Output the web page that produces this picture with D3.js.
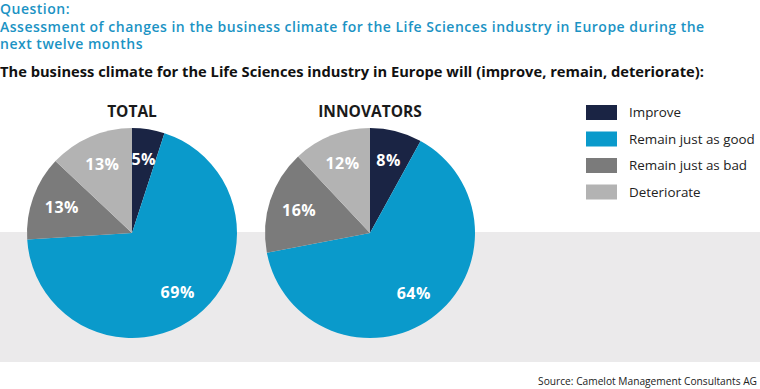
<!DOCTYPE html>
<html>
<head>
<meta charset="utf-8">
<style>
  body { margin: 0; background: #fff; }
  svg { display: block; font-family: "Open Sans", "Noto Sans", sans-serif; }
  .q { fill: #1b93c4; font-size: 14px; font-weight: 600; letter-spacing: 0.5px; }
  .sub { fill: #111; font-size: 14.7px; font-weight: bold; }
  .ptitle { fill: #1a1a1a; font-size: 15.5px; font-weight: bold; }
  .plabel { fill: #fff; font-size: 16px; font-weight: bold; letter-spacing: 0.5px; }
  .leg { fill: #222; font-size: 13.4px; }
  .src { fill: #222; font-size: 10.2px; }
</style>
<script src="https://d3js.org/d3.v7.min.js"></script>
</head>
<body>
<svg width="760" height="389"></svg>
<script>
const categories = ['Improve', 'Remain just as good', 'Remain just as bad', 'Deteriorate'];
const colors = ['#1a2444', '#0a9acb', '#7b7b7b', '#b3b3b3'];
const groups = ['TOTAL', 'INNOVATORS'];
const totalValues = [5, 69, 13, 13];
const innovatorValues = [8, 64, 16, 12];
const seriesValues = [totalValues, innovatorValues];

const titleLines = [
  'Question:',
  'Assessment of changes in the business climate for the Life Sciences industry in Europe during the',
  'next twelve months'
];
const subtitle = 'The business climate for the Life Sciences industry in Europe will (improve, remain, deteriorate):';
const source = 'Source: Camelot Management Consultants AG';

const svg = d3.select('svg');

// grey band behind the lower half of the pies
svg.append('rect').attr('x', 0).attr('y', 232).attr('width', 760).attr('height', 130).attr('fill', '#ebeaeb');

svg.selectAll('.q').data(titleLines).enter().append('text')
  .attr('class', 'q').attr('x', 0).attr('y', (d, i) => 14 + i * 17.5).text(d => d);
svg.append('text').attr('class', 'sub').attr('x', 0).attr('y', 77).text(subtitle);

const color = d3.scaleOrdinal().domain(categories).range(colors);
const cx = d3.scalePoint().domain(groups).range([132, 370]);
const cy = 233, r = 105;

const pie = d3.pie().sort(null).value(d => d.v);
const arc = d3.arc().innerRadius(0).outerRadius(r);
const labelArc = d3.arc().innerRadius(r * 0.71).outerRadius(r * 0.71);

groups.forEach((g, gi) => {
  const data = categories.map((c, i) => ({ c: c, v: seriesValues[gi][i] }));
  const gEl = svg.append('g').attr('transform', `translate(${cx(g)},${cy})`);
  gEl.selectAll('path').data(pie(data)).enter().append('path')
    .attr('d', arc).attr('fill', d => color(d.data.c));
  gEl.selectAll('.plabel').data(pie(data)).enter().append('text')
    .attr('class', 'plabel')
    .attr('x', d => labelArc.centroid(d)[0])
    .attr('y', d => labelArc.centroid(d)[1])
    .attr('text-anchor', 'middle').attr('dy', '0.35em')
    .text(d => d.data.v + '%');
  svg.append('text').attr('class', 'ptitle').attr('x', cx(g)).attr('y', 117)
    .attr('text-anchor', 'middle').text(g);
});

// legend
const ly = d3.scalePoint().domain(categories).range([112.5, 192]);
const leg = svg.selectAll('.legitem').data(categories).enter().append('g')
  .attr('transform', d => `translate(586,${ly(d)})`);
leg.append('rect').attr('x', 0).attr('y', -7.5).attr('width', 31).attr('height', 15)
  .attr('fill', d => color(d));
leg.append('text').attr('class', 'leg').attr('x', 43).attr('dy', '0.35em').text(d => d);

svg.append('text').attr('class', 'src').attr('x', 757).attr('y', 385)
  .attr('text-anchor', 'end').text(source);
</script>
</body>
</html>
